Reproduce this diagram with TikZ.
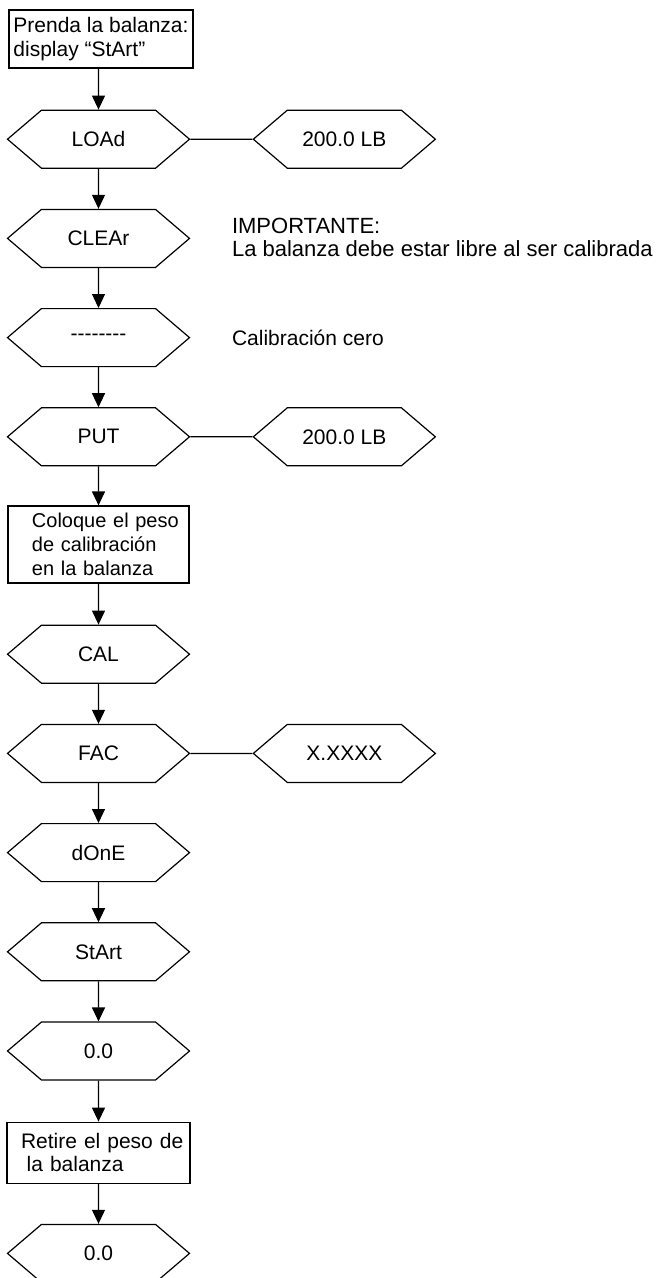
\documentclass[tikz,border=0pt]{standalone}
\usepackage{fontspec}
\setmainfont{Liberation Sans}
\usetikzlibrary{positioning, shapes.symbols, arrows.meta}
\newcommand{\dashrow}{\mbox{-}\mbox{-}\mbox{-}\mbox{-}\mbox{-}\mbox{-}\mbox{-}\mbox{-}}

\begin{document}
\begin{tikzpicture}[
  line width=1.2pt,
  every node/.style={
    font=\fontsize{21}{23.5}\selectfont
  },
  display/.style={
    signal, signal to=east and west, signal pointer angle=81,
    draw, minimum width=182pt, minimum height=58pt, inner sep=0pt
  },
  stepbox/.style={
    rectangle, draw, align=left, inner xsep=4pt, inner ysep=0pt
  },
  note/.style={align=left, inner sep=0pt},
  flow/.style={-{Triangle[length=14pt,width=13pt]}},
  node distance=40pt
  ]
  \useasboundingbox (0pt,0pt) rectangle (658pt,-1278pt);

  \node[stepbox, minimum width=184pt, minimum height=58pt] (power) at (101pt,-39pt)
    {Prenda la balanza:\\ display “StArt”};
  \node[display] (load) at (98.5pt,-139.2pt) {LOAd};
  \node[display, below=of load] (clear) {CLEAr};
  \node[display, below=of clear] (zero) {\dashrow};
  \node[display, below=of zero] (put) {PUT};
  \node[stepbox, text width=173pt, minimum height=77pt, below=39pt of put,
    font=\fontsize{20}{24}\selectfont] (place)
    {\hspace*{20pt}Coloque el peso\\ \hspace*{20pt}de calibración\\
     \hspace*{20pt}en la balanza};
  \node[display, below=41pt of place] (cal) {CAL};
  \node[display, below=of cal] (fac) {FAC};
  \node[display, below=of fac] (done) {dOnE};
  \node[display, below=of done] (start) {StArt};
  \node[display, below=of start] (read1) {0.0};
  \node[stepbox, text width=175pt, minimum height=61pt, below=41pt of read1] (remove)
    {\hspace*{10pt}Retire el peso de\\ \hspace*{15.7pt}la balanza};
  \node[display, below=of remove] (read2) {0.0};

  \node[display, right=62pt of load] (loadval) {200.0 LB};
  \node[display, right=62pt of put] (putval) {200.0 LB};
  \node[display, right=62pt of fac] (facval) {X.XXXX};
  \node[note, right=41pt of clear, yshift=1pt,
    font=\fontsize{22}{22.5}\selectfont] (warn)
    {IMPORTANTE:\\ La balanza debe estar libre al ser calibrada};
  \node[note, right=41pt of zero] (zeronote) {Calibración cero};

  \draw[flow] (power.south -| load) -- (load);
  \draw[flow] (load) -- (clear);
  \draw[flow] (clear) -- (zero);
  \draw[flow] (zero) -- (put);
  \draw[flow] (put) -- (place);
  \draw[flow] (place) -- (cal);
  \draw[flow] (cal) -- (fac);
  \draw[flow] (fac) -- (done);
  \draw[flow] (done) -- (start);
  \draw[flow] (start) -- (read1);
  \draw[flow] (read1) -- (remove);
  \draw[flow] (remove) -- (read2);

  \draw (load) -- (loadval);
  \draw (put) -- (putval);
  \draw (fac) -- (facval);
\end{tikzpicture}
\end{document}
